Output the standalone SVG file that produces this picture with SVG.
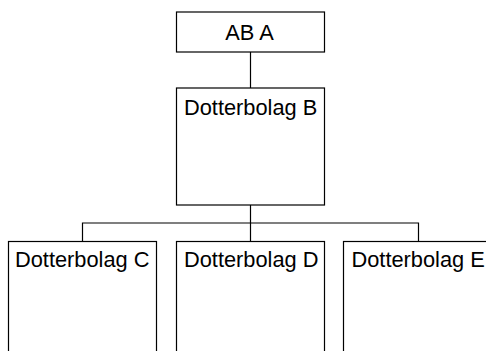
<svg xmlns="http://www.w3.org/2000/svg" width="486" height="351" viewBox="0 0 486 351">
<style>
.box{fill:#fff;stroke:#000;stroke-width:1.2}
.lbl{font-family:"Liberation Sans",Arial,sans-serif;font-size:21.8px;fill:#000}
.con{fill:none;stroke:#000;stroke-width:1.2}
</style>
<rect width="486" height="351" fill="#fff"/>
<g id="connectors">
<path class="con" d="M250.5 52V88"/>
<path class="con" d="M250.5 205V241.5"/>
<path class="con" d="M82.5 241.5V223H418.5V241.5"/>
</g>
<g id="nodeA">
<rect class="box" x="176.5" y="12" width="148" height="40"/>
<text class="lbl" x="249.5" y="39.5" text-anchor="middle">AB A</text>
</g>
<g id="nodeB">
<rect class="box" x="176.5" y="88" width="148" height="117"/>
<text class="lbl" x="184" y="115">Dotterbolag B</text>
</g>
<g id="nodeC">
<rect class="box" x="8.5" y="241.5" width="148" height="130"/>
<text class="lbl" x="15" y="266.7">Dotterbolag C</text>
</g>
<g id="nodeD">
<rect class="box" x="176.5" y="241.5" width="148" height="130"/>
<text class="lbl" x="184" y="266.7">Dotterbolag D</text>
</g>
<g id="nodeE">
<rect class="box" x="343.5" y="241.5" width="148" height="130"/>
<text class="lbl" x="351.5" y="266.7">Dotterbolag E</text>
</g>
</svg>
